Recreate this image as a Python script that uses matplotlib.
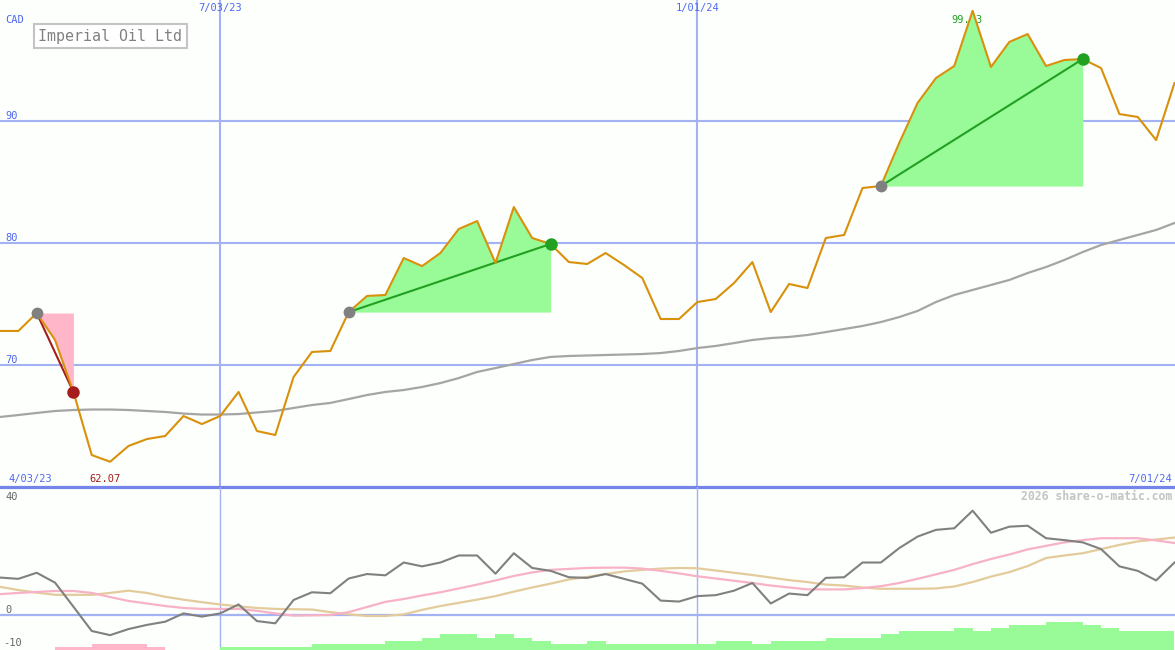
import matplotlib
matplotlib.use('Agg')
import matplotlib.pyplot as plt
import matplotlib.transforms as mtrans
import pandas as pd

# weekly closes (Mondays), Imperial Oil, CAD
weeks = pd.date_range('2023-04-10', periods=65, freq='W-MON')
price = [72.79, 72.79, 74.26, 72.05, 67.79, 62.62, 62.07, 63.36, 63.93, 64.18,
         65.82, 65.16, 65.82, 67.79, 64.59, 64.26, 69.02, 71.07, 71.15, 74.34,
         75.66, 75.74, 78.77, 78.11, 79.18, 81.15, 81.80, 78.36, 82.95, 80.41,
         79.92, 78.44, 78.28, 79.18, 78.20, 77.13, 73.77, 73.77, 75.16, 75.41,
         76.72, 78.44, 74.34, 76.64, 76.31, 80.41, 80.66, 84.51, 84.67, 88.20,
         91.48, 93.52, 94.51, 99.03, 94.43, 96.48, 97.13, 94.51, 95.00, 95.08,
         94.34, 90.57, 90.33, 88.44, 93.11]
avg = [65.74, 65.90, 66.07, 66.23, 66.31, 66.35, 66.35, 66.31, 66.23, 66.15,
       66.02, 65.94, 65.94, 65.98, 66.11, 66.23, 66.48, 66.72, 66.89, 67.21,
       67.54, 67.79, 67.95, 68.20, 68.52, 68.93, 69.43, 69.75, 70.08, 70.41,
       70.66, 70.74, 70.78, 70.82, 70.86, 70.90, 70.98, 71.15, 71.39, 71.56,
       71.80, 72.05, 72.21, 72.30, 72.46, 72.70, 72.95, 73.20, 73.52, 73.93,
       74.43, 75.16, 75.74, 76.15, 76.56, 76.97, 77.54, 78.03, 78.61, 79.26,
       79.84, 80.25, 80.66, 81.07, 81.64]

# lower panel indicator
mom = [11.7, 11.3, 13.2, 10.1, 2.6, -5.0, -6.3, -4.4, -3.1, -2.1,
       0.5, -0.5, 0.5, 3.3, -1.9, -2.6, 4.7, 7.1, 6.8, 11.4,
       12.8, 12.4, 16.4, 15.2, 16.4, 18.6, 18.6, 12.9, 19.3, 14.7,
       13.8, 11.8, 11.6, 12.8, 11.3, 9.8, 4.5, 4.2, 5.9, 6.2,
       7.6, 10.0, 3.6, 6.7, 6.2, 11.6, 11.8, 16.4, 16.4, 20.9,
       24.5, 26.6, 27.1, 32.6, 25.7, 27.6, 27.9, 24.0, 23.4, 22.7,
       20.6, 15.2, 13.8, 10.8, 16.4]
mom_fast = [6.5, 6.9, 7.2, 7.5, 7.5, 6.9, 5.6, 4.4, 3.6, 2.8,
            2.2, 1.9, 1.9, 1.9, 1.3, 0.5, -0.2, -0.1, 0.0, 0.9,
            2.5, 4.1, 5.0, 6.1, 7.1, 8.3, 9.5, 10.8, 12.2, 13.3,
            14.1, 14.4, 14.7, 14.8, 14.8, 14.5, 13.8, 13.0, 12.1, 11.4,
            10.7, 10.0, 9.2, 8.6, 8.0, 8.0, 8.0, 8.4, 9.0, 10.0,
            11.3, 12.7, 14.1, 15.9, 17.5, 18.9, 20.5, 21.6, 22.7, 23.4,
            24.0, 24.0, 24.0, 23.3, 22.5]
mom_slow = [8.8, 7.8, 7.0, 6.3, 6.3, 6.3, 6.9, 7.6, 6.9, 5.7,
            4.8, 4.0, 3.3, 2.7, 2.2, 1.9, 1.8, 1.7, 0.9, 0.2,
            -0.3, -0.3, 0.2, 1.6, 2.8, 3.8, 4.8, 5.9, 7.3, 8.6,
            9.8, 11.1, 11.9, 12.8, 13.6, 14.1, 14.5, 14.7, 14.6, 13.9,
            13.2, 12.5, 11.7, 10.9, 10.3, 9.5, 9.2, 8.6, 8.2, 8.2,
            8.2, 8.3, 8.9, 10.3, 12.0, 13.4, 15.3, 17.8, 18.6, 19.3,
            20.6, 21.9, 23.0, 23.6, 24.2]
strength = [0, 0, 0, -1, -1, -2, -2, -2, -1, 0,
            0, 0, 1, 1, 1, 1, 1, 2, 2, 2,
            2, 3, 3, 4, 5, 5, 4, 5, 4, 3,
            2, 2, 3, 2, 2, 2, 2, 2, 2, 3,
            3, 2, 3, 3, 3, 4, 4, 4, 5, 6,
            6, 6, 7, 6, 7, 8, 8, 9, 9, 8,
            7, 6, 6, 6, 0]

# (entry week, exit week)
trades = [(2, 4), (19, 30), (48, 59)]

price_ticks = [70, 80, 90]
vlines = [pd.Timestamp('2023-07-03'), pd.Timestamp('2024-01-01')]
vline_labels = ['7/03/23', '1/01/24']

BG = '#fcfffc'
GRID = '#a3b2f2'
BLUE_TXT = '#5068f0'
FONT = 'DejaVu Sans Mono'

fig = plt.figure(figsize=(11.75, 6.5), dpi=100, facecolor=BG)
ax = fig.add_axes([0, 163 / 650, 1, 487 / 650])
ax2 = fig.add_axes([0, 0, 1, 163 / 650])
x0 = weeks[0]
x1 = weeks[0] + pd.Timedelta(days=448.2)
for a in (ax, ax2):
    a.set_axis_off()
    a.set_xlim(x0, x1)
ax.set_ylim(60, 99.92)
ax2.set_ylim(-10.94, 40)

# grid
for t in price_ticks:
    ax.axhline(t, color=GRID, lw=1.5, zorder=1)
for v in vlines:
    ax.axvline(v, color=GRID, lw=1.5, zorder=1)
    ax2.axvline(v, color=GRID, lw=1.0, zorder=1)
ax2.axhline(0, color=GRID, lw=1.6, zorder=1)
ax.axhline(60, color='#7484ea', lw=2.3, zorder=6, clip_on=False)

# price panel
ax.plot(weeks, avg, color='#a5a5a5', lw=1.6, zorder=3)
for a_i, b_i in trades:
    win = price[b_i] > price[a_i]
    fill = '#98fb98' if win else '#ffb6c8'
    lc = '#22a022' if win else '#a51c1c'
    seg = weeks[a_i:b_i + 1]
    ax.fill_between(seg, price[a_i:b_i + 1], price[a_i], color=fill, lw=0, zorder=2)
    ax.plot([weeks[a_i], weeks[b_i]], [price[a_i], price[b_i]], color=lc, lw=1.5, zorder=4)
ax.plot(weeks, price, color='#d9900b', lw=1.5, zorder=5)
for a_i, b_i in trades:
    win = price[b_i] > price[a_i]
    lc = '#22a022' if win else '#a51c1c'
    ax.plot(weeks[a_i], price[a_i], 'o', color='#808080', ms=8.5, mew=0, zorder=6)
    ax.plot(weeks[b_i], price[b_i], 'o', color=lc, ms=9, mew=0, zorder=6)

# lower panel
bar_col = ['#98fb98' if s > 0 else '#ffb6c8' for s in strength]
ax2.bar(weeks, [abs(s) * 0.97 for s in strength], width=7, align='edge',
        bottom=-10.94, color=bar_col, lw=0, zorder=2)
ax2.plot(weeks, mom_slow, color='#e3cb9c', lw=1.6, zorder=3)
ax2.plot(weeks, mom_fast, color='#f8b2c6', lw=1.6, zorder=3)
ax2.plot(weeks, mom, color='#808080', lw=1.5, zorder=4)

# labels
ylab = mtrans.blended_transform_factory(ax.transAxes, ax.transData)
for t in price_ticks:
    ax.text(5 / 1175, t + 0.15, str(t), transform=ylab, fontsize=7.5, family=FONT,
            color=BLUE_TXT, va='baseline', ha='left')
ylab2 = mtrans.blended_transform_factory(ax2.transAxes, ax2.transData)
ax2.text(5 / 1175, 0.6, '0', transform=ylab2, fontsize=7.5, family=FONT,
         color='#666666', va='baseline')
ax2.text(3 / 1175, -9.7, '-10', transform=ylab2, fontsize=7.5, family=FONT,
         color='#666666', va='baseline')
ax2.text(5 / 1175, 35.9, '40', transform=ylab2, fontsize=7.5, family=FONT,
         color='#666666', va='baseline')

xlab = mtrans.blended_transform_factory(ax.transData, fig.transFigure)
for v, lab in zip(vlines, vline_labels):
    ax.text(v, 1 - 8 / 650, lab, transform=xlab, fontsize=7.5, family=FONT,
            color=BLUE_TXT, ha='center', va='center')
fig.text(5 / 1175, 1 - 20 / 650, 'CAD', fontsize=7.5, family=FONT, color=BLUE_TXT, va='center')
fig.text(8 / 1175, 1 - 479 / 650, '4/03/23', fontsize=7.5, family=FONT, color=BLUE_TXT, va='center')
fig.text(1172 / 1175, 1 - 479 / 650, '7/01/24', fontsize=7.5, family=FONT, color=BLUE_TXT,
         va='center', ha='right')
fig.text(1172 / 1175, 1 - 496 / 650, '2026 share-o-matic.com', fontsize=8.3, family=FONT,
         color='#c4c4c4', weight='bold', va='center', ha='right')

lo = min(range(len(price)), key=lambda k: price[k])
hi = max(range(len(price)), key=lambda k: price[k])
ax.text(weeks[lo] - pd.Timedelta(days=2), 1 - 479 / 650, f'{price[lo]:.2f}', transform=xlab,
        fontsize=7.5, family=FONT, color='#a51c1c', ha='center', va='center')
ax.text(weeks[hi] - pd.Timedelta(days=2), 1 - 20 / 650, f'{price[hi]:.2f}', transform=xlab,
        fontsize=7.5, family=FONT, color='#22a022', ha='center', va='center', zorder=1)

fig.text(38 / 1175, 1 - 36 / 650, 'Imperial Oil Ltd', fontsize=10.8, family=FONT,
         color='#808080', va='center', ha='left',
         bbox=dict(boxstyle='square,pad=0.3', fc='white', ec='#c4c4c4', lw=1.5))

fig.savefig('out.png', dpi=100, facecolor=BG)
